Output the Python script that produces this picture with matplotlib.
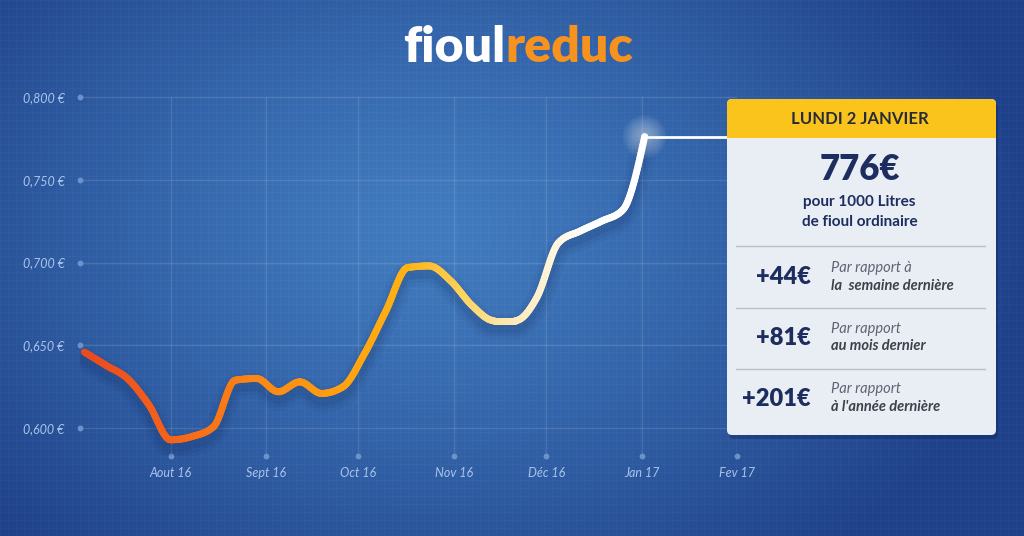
import matplotlib
matplotlib.use('Agg')
import matplotlib.pyplot as plt
import matplotlib.dates as mdates
import matplotlib.transforms as mtransforms
from matplotlib.path import Path
from matplotlib.collections import LineCollection
from matplotlib.colors import LinearSegmentedColormap
from matplotlib.patches import FancyBboxPatch, Rectangle, Circle
import numpy as np
import pandas as pd
import datetime as dt

# weekly prices (EUR / litre), Mondays from 4 July 2016 to 2 January 2017
dates = pd.date_range('2016-07-04', '2017-01-02', freq='7D')
prices = [0.646, 0.638, 0.630, 0.614, 0.593, 0.595, 0.601, 0.629, 0.630,
          0.622, 0.628, 0.621, 0.625, 0.645, 0.671, 0.697, 0.698, 0.689,
          0.674, 0.665, 0.665, 0.679, 0.712, 0.719, 0.725, 0.732, 0.776]

month_ticks = [dt.date(2016, 8, 1), dt.date(2016, 9, 1), dt.date(2016, 10, 1),
               dt.date(2016, 11, 1), dt.date(2016, 12, 1), dt.date(2017, 1, 1),
               dt.date(2017, 2, 1)]
month_labels = ['Aout 16', 'Sept 16', 'Oct 16', 'Nov 16', 'Déc 16', 'Jan 17', 'Fev 17']
y_ticks = [0.600, 0.650, 0.700, 0.750, 0.800]
y_labels = ['0,600 €', '0,650 €', '0,700 €', '0,750 €', '0,800 €']

box_date = 'LUNDI 2 JANVIER'
box_price = '776€'
box_sub = ['pour 1000 Litres', 'de fioul ordinaire']
deltas = ['+44€', '+81€', '+201€']
delta_txt = [('Par rapport à', 'la  semaine dernière'),
             ('Par rapport', 'au mois dernier'),
             ('Par rapport', "à l'année dernière")]

FONT = ['Lato', 'DejaVu Sans']
plt.rcParams['font.family'] = FONT

W, H = 1024, 536
fig = plt.figure(figsize=(W / 100, H / 100), dpi=100)

# background: radial blue gradient with a faint blueprint grid
bg = fig.add_axes([0, 0, 1, 1], zorder=0)
bg.set_axis_off()
yy, xx = np.mgrid[0:H, 0:W]
r = np.clip(np.hypot((xx - 430) / 600, (yy - 230) / 430), 0, 1) ** 1.2
inner = np.array([0x42, 0x7c, 0xbf]) / 255
outer = np.array([0x1f, 0x41, 0x89]) / 255
img = inner * (1 - r[..., None]) + outer * r[..., None]
fine = ((xx % 8) == 0) | ((yy % 8) == 0)
img = img + fine[..., None] * 0.018
bg.imshow(np.clip(img, 0, 1), extent=[0, W, H, 0], aspect='auto', interpolation='bilinear')
bg.set_xlim(0, W)
bg.set_ylim(H, 0)

# main chart axes
left, right, top, bottom = 80, 737, 97, 455.7
ax = fig.add_axes([left / W, 1 - bottom / H, (right - left) / W, (bottom - top) / H], zorder=2)
ax.set_facecolor('none')
for s in ax.spines.values():
    s.set_visible(False)
ax.set_xlim(dt.datetime(2016, 7, 2, 14), dt.datetime(2017, 2, 1))
ax.set_ylim(0.5834, 0.800)
ax.set_xticks(month_ticks)
ax.set_xticklabels(month_labels, fontsize=9, style='italic', color='#a9c4e9')
ax.set_yticks(y_ticks)
ax.set_yticklabels(y_labels, fontsize=9, style='italic', color='#a9c4e9')
ax.tick_params(axis='x', length=0, pad=8)
ax.tick_params(axis='y', length=0, pad=11)
ax.grid(True, color='white', alpha=0.12, lw=1)
ax.set_axisbelow(True)

x0, x1 = ax.get_xlim()
y0, y1 = ax.get_ylim()
ax.scatter([x0] * len(y_ticks), y_ticks, s=10, color='#6c92ca', clip_on=False, zorder=3)
ax.scatter(mdates.date2num(month_ticks), [y0] * len(month_ticks), s=10, color='#6c92ca',
           clip_on=False, zorder=3)

# monotone cubic curve through the weekly points, as Bezier segments
xs = mdates.date2num(dates)
ys = np.array(prices)
h = np.diff(xs)
sl = np.diff(ys) / h
m = np.zeros_like(ys)
for i in range(1, len(ys) - 1):
    p = (sl[i - 1] * h[i] + sl[i] * h[i - 1]) / (h[i - 1] + h[i])
    m[i] = (np.sign(sl[i - 1]) + np.sign(sl[i])) * min(abs(sl[i - 1]), abs(sl[i]), 0.5 * abs(p))
m[0] = (3 * sl[0] - m[1]) / 2
m[-1] = (3 * sl[-1] - m[-2]) / 2
verts, codes = [(xs[0], ys[0])], [Path.MOVETO]
for i in range(len(ys) - 1):
    d = h[i] / 3
    verts += [(xs[i] + d, ys[i] + d * m[i]), (xs[i + 1] - d, ys[i + 1] - d * m[i + 1]),
              (xs[i + 1], ys[i + 1])]
    codes += [Path.CURVE4] * 3
path = Path(verts, codes)
pts = [np.array([[xs[0], ys[0]]])]
for seg, code in path.iter_bezier():
    if code == Path.CURVE4:
        pts.append(seg(np.linspace(0, 1, 24))[1:])
pts = np.vstack(pts)

# soft shadow under the line
shadow = mtransforms.offset_copy(ax.transData, fig=fig, x=0, y=-7, units='dots')
for lw, a in [(18, 0.04), (13, 0.06), (8, 0.09)]:
    ax.plot(pts[:, 0], pts[:, 1], color='#0a1f4d', lw=lw, alpha=a, transform=shadow,
            solid_capstyle='round', zorder=3)

cmap = LinearSegmentedColormap.from_list('fuel', [
    (0.0, '#ea4a1f'), (0.15, '#f4621a'), (0.30, '#fb8516'), (0.45, '#fe9f10'),
    (0.58, '#ffb313'), (0.68, '#fdd35e'), (0.76, '#fde9b3'), (0.84, '#fff4dc'),
    (0.90, '#ffffff'), (1.0, '#ffffff')])
segs = np.stack([pts[:-1], pts[1:]], axis=1)
frac = (pts[:-1, 0] - xs[0]) / (xs[-1] - xs[0])
lc = LineCollection(segs, colors=cmap(frac), linewidths=5, capstyle='round', zorder=4)
ax.add_collection(lc)

# overlay in pixel coordinates for the info box
ov = fig.add_axes([0, 0, 1, 1], zorder=5)
ov.set_axis_off()
ov.set_xlim(0, W)
ov.set_ylim(H, 0)

px, py = ax.transData.transform((xs[-1], ys[-1]))
py = H - py
bx, by, bw, bh = 727, 99, 269, 336
ov.plot([px, bx + 2], [py, py], color='white', lw=2, zorder=1)
for rad in np.linspace(22, 4, 12):
    ov.add_patch(Circle((px, py), rad, color='white', alpha=0.045, lw=0, zorder=2))
ov.add_patch(Circle((px, py), 3.5, color='white', lw=0, zorder=3))

ov.add_patch(FancyBboxPatch((bx + 2, by + 4), bw, bh, boxstyle='round,pad=0,rounding_size=5',
                            fc='#0b2052', ec='none', alpha=0.35, zorder=3))
ov.add_patch(FancyBboxPatch((bx, by), bw, bh, boxstyle='round,pad=0,rounding_size=5',
                            fc='#e9edf4', ec='none', zorder=4))
ov.add_patch(FancyBboxPatch((bx, by), bw, 39, boxstyle='round,pad=0,rounding_size=5',
                            fc='#fbc41d', ec='none', zorder=5))
ov.add_patch(Rectangle((bx, by + 25), bw, 14, fc='#fbc41d', ec='none', zorder=5))

cx = bx + bw / 2 - 2
navy = '#1d2d5f'
ov.text(cx, 119, box_date, ha='center', va='center', fontsize=12, fontweight='bold',
        color='#262b3a', zorder=6)
ov.text(cx, 170, box_price, ha='center', va='center', fontsize=25, fontweight='heavy',
        color=navy, zorder=6)
ov.text(cx, 202, box_sub[0], ha='center', va='center', fontsize=11, fontweight='bold',
        color=navy, zorder=6)
ov.text(cx, 222, box_sub[1], ha='center', va='center', fontsize=11, fontweight='bold',
        color=navy, zorder=6)

for yl in [246, 308, 369]:
    ov.plot([736, 985], [yl, yl], color='#b9c0cc', lw=1, zorder=6)

row_y = [277.5, 338, 398.5]
for yc, d, (l1, l2) in zip(row_y, deltas, delta_txt):
    ov.text(811, yc, d, ha='right', va='center', fontsize=17, fontweight='heavy',
            color=navy, zorder=6)
    ov.text(831, yc - 9.5, l1, ha='left', va='center', fontsize=10.5, style='italic',
            color='#5e6572', zorder=6)
    ov.text(831, yc + 8.5, l2, ha='left', va='center', fontsize=10.5, style='italic',
            fontweight='bold', color='#3c414b', zorder=6)

# logo
ov.text(505, 47, 'fioul', ha='right', va='center', fontsize=36, fontweight='heavy',
        color='white', zorder=6)
ov.text(505, 47, 'reduc', ha='left', va='center', fontsize=36, fontweight='heavy',
        color='#f7921e', zorder=6)

fig.savefig('out.png', dpi=100)
